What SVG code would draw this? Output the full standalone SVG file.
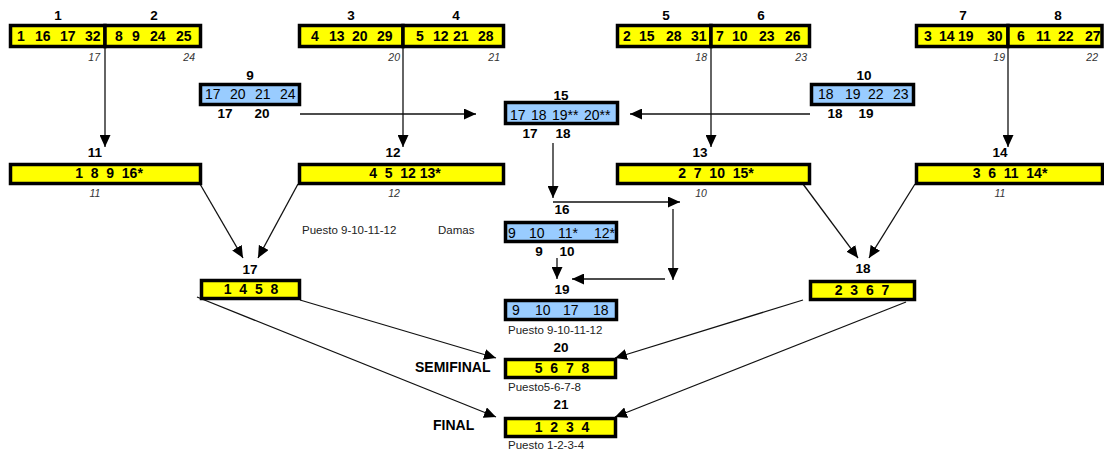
<svg xmlns="http://www.w3.org/2000/svg" width="1104" height="454" viewBox="0 0 1104 454">
<style>
.y{fill:#ffff00;stroke:#000;stroke-width:3.5}
.b{fill:#99ccff;stroke:#000;stroke-width:3.5}
.t{font-family:"Liberation Sans",Arial,sans-serif;font-weight:bold;font-size:14px;fill:#000}
.tb{font-family:"Liberation Sans",Arial,sans-serif;font-size:14px;fill:#000}
.lb{font-family:"Liberation Sans",Arial,sans-serif;font-weight:bold;font-size:13.5px;fill:#000;text-anchor:middle}
.it{font-family:"Liberation Sans",Arial,sans-serif;font-style:italic;font-size:10.5px;fill:#333}
.pu{font-family:"Liberation Sans",Arial,sans-serif;font-size:11.5px;fill:#222}
.c{fill:none;stroke:#111;stroke-width:1.3}
</style>
<defs>
<marker id="ah" viewBox="0 0 12 11" refX="12" refY="5.5" markerWidth="12" markerHeight="11" orient="auto" markerUnits="userSpaceOnUse"><path d="M0,0 L12,5.5 L0,11 z" fill="#000"/></marker>
</defs>

<g id="connectors">
<path class="c" d="M105,48 V147" marker-end="url(#ah)"/>
<path class="c" d="M403,48 V147" marker-end="url(#ah)"/>
<path class="c" d="M711,48 V147" marker-end="url(#ah)"/>
<path class="c" d="M1008,48 V147" marker-end="url(#ah)"/>
<path class="c" d="M300,114 H476" marker-end="url(#ah)"/>
<path class="c" d="M810,114 H630" marker-end="url(#ah)"/>
<path class="c" d="M553,143 V198" marker-end="url(#ah)"/>
<path class="c" d="M553,202 H680" marker-end="url(#ah)"/>
<path class="c" d="M673,209 V280" marker-end="url(#ah)"/>
<path class="c" d="M665,279 H572" marker-end="url(#ah)"/>
<path class="c" d="M557,258 V279" marker-end="url(#ah)"/>
<path class="c" d="M200,184 L243,258" marker-end="url(#ah)"/>
<path class="c" d="M298,184 L258,258" marker-end="url(#ah)"/>
<path class="c" d="M803,184 L858,258" marker-end="url(#ah)"/>
<path class="c" d="M915,184 L869,258" marker-end="url(#ah)"/>
<path class="c" d="M300,300 L496,358" marker-end="url(#ah)"/>
<path class="c" d="M197,297 L496,417" marker-end="url(#ah)"/>
<path class="c" d="M803,300 L615,358" marker-end="url(#ah)"/>
<path class="c" d="M906,302 L615,417" marker-end="url(#ah)"/>
</g>

<g id="n1">
<rect class="y" x="10.5" y="25.5" width="94.5" height="21"/>
<text class="lb" x="58" y="20">1</text>
<text class="t" y="41"><tspan x="17">1</tspan><tspan x="35">16</tspan><tspan x="60">17</tspan><tspan x="85">32</tspan></text>
<text class="it" x="100" y="61" text-anchor="end">17</text>
</g>
<g id="n2">
<rect class="y" x="105" y="25.5" width="95.5" height="21"/>
<text class="lb" x="154" y="20">2</text>
<text class="t" y="41"><tspan x="115">8</tspan><tspan x="132">9</tspan><tspan x="150">24</tspan><tspan x="176">25</tspan></text>
<text class="it" x="195" y="61" text-anchor="end">24</text>
</g>
<g id="n3">
<rect class="y" x="299.5" y="25.5" width="103.5" height="21"/>
<text class="lb" x="351" y="20">3</text>
<text class="t" y="41"><tspan x="311">4</tspan><tspan x="329">13</tspan><tspan x="352">20</tspan><tspan x="377">29</tspan></text>
<text class="it" x="400" y="61" text-anchor="end">20</text>
</g>
<g id="n4">
<rect class="y" x="403" y="25.5" width="100.5" height="21"/>
<text class="lb" x="456" y="20">4</text>
<text class="t" y="41"><tspan x="416">5</tspan><tspan x="433">12</tspan><tspan x="453">21</tspan><tspan x="478">28</tspan></text>
<text class="it" x="500" y="61" text-anchor="end">21</text>
</g>
<g id="n5">
<rect class="y" x="617.5" y="25.5" width="93.5" height="21"/>
<text class="lb" x="666" y="20">5</text>
<text class="t" y="41"><tspan x="623">2</tspan><tspan x="639">15</tspan><tspan x="666">28</tspan><tspan x="691">31</tspan></text>
<text class="it" x="707" y="61" text-anchor="end">18</text>
</g>
<g id="n6">
<rect class="y" x="711" y="25.5" width="98.5" height="21"/>
<text class="lb" x="761" y="20">6</text>
<text class="t" y="41"><tspan x="716">7</tspan><tspan x="732">10</tspan><tspan x="759">23</tspan><tspan x="785">26</tspan></text>
<text class="it" x="807" y="61" text-anchor="end">23</text>
</g>
<g id="n7">
<rect class="y" x="916.5" y="25.5" width="91.5" height="21"/>
<text class="lb" x="963" y="20">7</text>
<text class="t" y="41"><tspan x="924">3</tspan><tspan x="939">14</tspan><tspan x="958">19</tspan><tspan x="987">30</tspan></text>
<text class="it" x="1005" y="61" text-anchor="end">19</text>
</g>
<g id="n8">
<rect class="y" x="1008" y="25.5" width="94" height="21"/>
<text class="lb" x="1058" y="20">8</text>
<text class="t" y="41"><tspan x="1017">6</tspan><tspan x="1036">11</tspan><tspan x="1058">22</tspan><tspan x="1085">27</tspan></text>
<text class="it" x="1098" y="61" text-anchor="end">22</text>
</g>

<g id="n9">
<rect class="b" x="200.5" y="84.5" width="99" height="20"/>
<text class="lb" x="250" y="80">9</text>
<text class="tb" y="99"><tspan x="205">17</tspan><tspan x="230">20</tspan><tspan x="255">21</tspan><tspan x="280">24</tspan></text>
<text class="lb" x="225" y="118">17</text><text class="lb" x="262" y="118">20</text>
</g>
<g id="n10">
<rect class="b" x="811.5" y="84.5" width="102" height="20"/>
<text class="lb" x="864" y="80">10</text>
<text class="tb" y="99"><tspan x="818">18</tspan><tspan x="845">19</tspan><tspan x="868">22</tspan><tspan x="893">23</tspan></text>
<text class="lb" x="835" y="118">18</text><text class="lb" x="866" y="118">19</text>
</g>
<g id="n15">
<rect class="b" x="505.5" y="102.5" width="112" height="21"/>
<text class="lb" x="561" y="100">15</text>
<text class="tb" y="120"><tspan x="510">17</tspan><tspan x="531">18</tspan><tspan x="552">19**</tspan><tspan x="584">20**</tspan></text>
<text class="lb" x="530" y="138">17</text><text class="lb" x="563" y="138">18</text>
</g>

<g id="n11">
<rect class="y" x="10.5" y="164.5" width="190" height="19"/>
<text class="lb" x="95" y="157">11</text>
<text class="t" x="109" y="178" text-anchor="middle" xml:space="preserve">1  8  9  16*</text>
<text class="it" x="95" y="197" text-anchor="middle">11</text>
</g>
<g id="n12">
<rect class="y" x="299.5" y="164.5" width="204" height="19"/>
<text class="lb" x="393" y="157">12</text>
<text class="t" x="405" y="178" text-anchor="middle" xml:space="preserve">4  5  12 13*</text>
<text class="it" x="394" y="197" text-anchor="middle">12</text>
</g>
<g id="n13">
<rect class="y" x="617.5" y="164.5" width="192" height="19"/>
<text class="lb" x="700" y="157">13</text>
<text class="t" x="716" y="178" text-anchor="middle" xml:space="preserve">2  7  10  15*</text>
<text class="it" x="701" y="197" text-anchor="middle">10</text>
</g>
<g id="n14">
<rect class="y" x="916.5" y="164.5" width="186" height="19"/>
<text class="lb" x="1000" y="157">14</text>
<text class="t" x="1010" y="178" text-anchor="middle" xml:space="preserve">3  6  11  14*</text>
<text class="it" x="1000" y="197" text-anchor="middle">11</text>
</g>

<g id="n16">
<rect class="b" x="505.5" y="222.5" width="111" height="19"/>
<text class="lb" x="562" y="214">16</text>
<text class="tb" y="238"><tspan x="508">9</tspan><tspan x="529">10</tspan><tspan x="558">11*</tspan><tspan x="594">12*</tspan></text>
<text class="lb" x="539" y="256">9</text><text class="lb" x="567" y="256">10</text>
</g>
<text class="pu" x="302" y="234">Puesto 9-10-11-12</text>
<text class="pu" x="438" y="234">Damas</text>

<g id="n17">
<rect class="y" x="201.5" y="280.5" width="98" height="18"/>
<text class="lb" x="250" y="274">17</text>
<text class="t" x="251" y="294" text-anchor="middle" xml:space="preserve">1  4  5  8</text>
</g>
<g id="n18">
<rect class="y" x="810.5" y="281.5" width="104" height="18"/>
<text class="lb" x="863" y="273">18</text>
<text class="t" x="862" y="295" text-anchor="middle" xml:space="preserve">2  3  6  7</text>
</g>

<g id="n19">
<rect class="b" x="505.5" y="300.5" width="111" height="19"/>
<text class="lb" x="562" y="294">19</text>
<text class="tb" y="315"><tspan x="512">9</tspan><tspan x="535">10</tspan><tspan x="563">17</tspan><tspan x="593">18</tspan></text>
<text class="pu" x="508" y="334">Puesto 9-10-11-12</text>
</g>
<g id="n20">
<rect class="y" x="505.5" y="359.5" width="110" height="18"/>
<text class="lb" x="561" y="352">20</text>
<text class="t" x="562" y="373" text-anchor="middle" xml:space="preserve">5  6  7  8</text>
<text class="pu" x="508" y="391">Puesto5-6-7-8</text>
<text class="t" x="415" y="372">SEMIFINAL</text>
</g>
<g id="n21">
<rect class="y" x="505.5" y="418.5" width="110" height="18"/>
<text class="lb" x="561" y="409">21</text>
<text class="t" x="562" y="432" text-anchor="middle" xml:space="preserve">1  2  3  4</text>
<text class="pu" x="508" y="449">Puesto 1-2-3-4</text>
<text class="t" x="433" y="430">FINAL</text>
</g>
</svg>
